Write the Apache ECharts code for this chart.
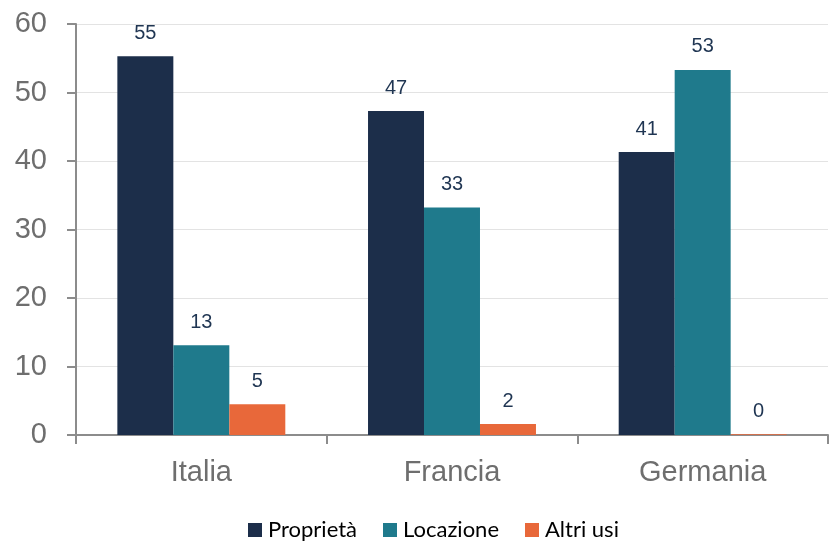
<!DOCTYPE html>
<html><head><meta charset="utf-8">
<script src="https://cdn.jsdelivr.net/npm/echarts@6/dist/echarts.min.js"></script>
<style>html,body{margin:0;padding:0;background:#fff}#c{width:831px;height:541px}</style>
</head><body><div id="c"></div>
<script>
const categories = ['Italia', 'Francia', 'Germania'];
const proprieta = [55.3, 47.3, 41.3];
const locazione = [13.1, 33.2, 53.3];
const altriUsi = [4.5, 1.6, 0.1];
const seriesNames = ['Proprietà', 'Locazione', 'Altri usi'];
const colors = ['#1C2E4A', '#1F7A8C', '#E8683A'];
const yTicks = [0, 10, 20, 30, 40, 50, 60];

const chart = echarts.init(document.getElementById('c'));
const mk = (name, data, color) => ({
  name, type: 'bar', data, barGap: '0%', barCategoryGap: '33%',
  itemStyle: { color },
  label: { show: true, position: 'top', distance: 13, color: '#1F3552', fontSize: 20,
    fontFamily: 'Liberation Sans, Arial', formatter: p => Math.round(p.value) }
});
chart.setOption({
  animation: false,
  grid: { left: 76, right: 3, top: 24, bottom: 106, containLabel: false },
  legend: {
    top: 514, left: 243, itemWidth: 14, itemHeight: 14, itemGap: 26, padding: 5,
    icon: 'rect',
    textStyle: { fontSize: 22, lineHeight: 22, color: '#000', fontFamily: 'Lato, sans-serif', padding: [0,0,0,1] },
    data: seriesNames
  },
  xAxis: {
    type: 'category', data: categories,
    axisLine: { lineStyle: { color: '#8C8C8C', width: 2 } },
    axisTick: { show: true, length: 9, alignWithLabel: false, lineStyle: { color: '#8C8C8C', width: 2 } },
    axisLabel: { fontSize: 29, color: '#6E6E6E', margin: 23, fontFamily: 'Liberation Sans, Arial' }
  },
  yAxis: {
    type: 'value', min: 0, max: 60, interval: 10,
    axisLine: { show: true, lineStyle: { color: '#8C8C8C', width: 2 } },
    axisTick: { show: true, length: 9, lineStyle: { color: '#8C8C8C', width: 2 } },
    splitLine: { lineStyle: { color: '#E3E3E3', width: 1 } },
    axisLabel: { fontSize: 29, color: '#6E6E6E', margin: 29, fontFamily: 'Liberation Sans, Arial',
      formatter: v => yTicks.includes(v) ? String(v) : '' }
  },
  series: [
    mk(seriesNames[0], proprieta, colors[0]),
    mk(seriesNames[1], locazione, colors[1]),
    mk(seriesNames[2], altriUsi, colors[2])
  ]
});
</script></body></html>
